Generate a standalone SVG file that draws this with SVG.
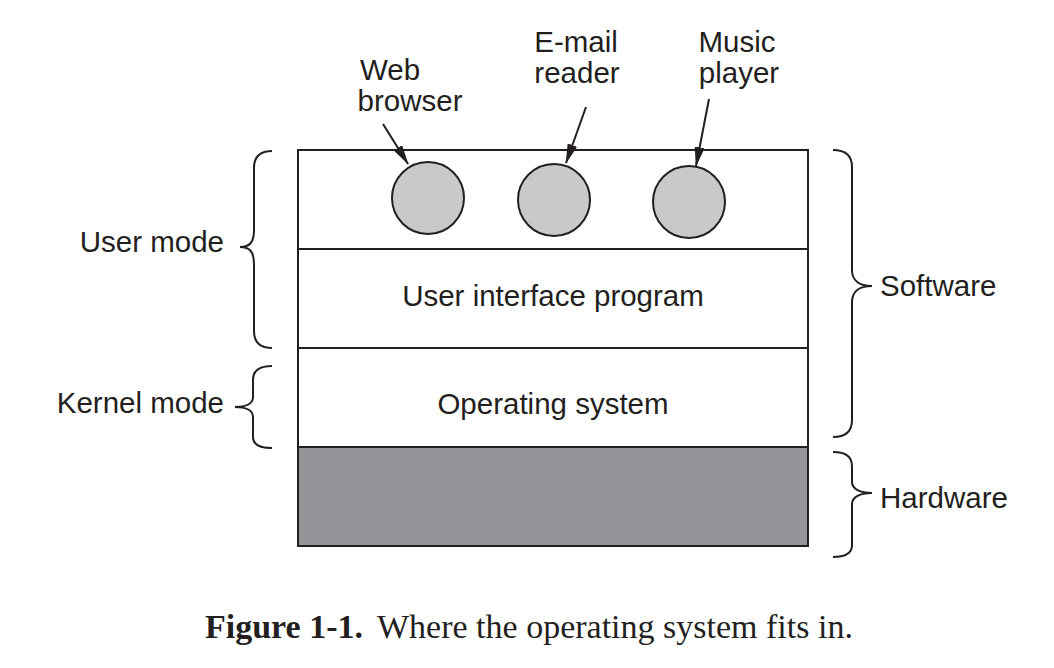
<svg xmlns="http://www.w3.org/2000/svg" width="1054" height="668" viewBox="0 0 1054 668">
<style>
.ln{stroke:#231f20;stroke-width:2;fill:none}
.box{stroke:#231f20;stroke-width:2}
.t{font-family:"Liberation Sans",Arial,Helvetica,sans-serif;font-size:29.5px;fill:#231f20}
.c{fill:#c8c9cb;stroke:#231f20;stroke-width:2}
.cap{font-family:"Liberation Serif","Times New Roman",serif;font-size:34px;fill:#231f20}
</style>
<defs>
<marker id="ah2" viewBox="0 0 20 10" refX="19" refY="5" markerWidth="20" markerHeight="10" markerUnits="userSpaceOnUse" orient="auto">
<path d="M0,0 L20,5 L0,10 Z" fill="#231f20"/>
</marker>
</defs>
<rect width="1054" height="668" fill="#ffffff"/>
<g id="layer-apps"><rect class="box" x="298" y="150" width="510" height="99" fill="#ffffff"/></g>
<g id="layer-ui"><rect class="box" x="298" y="249" width="510" height="99" fill="#ffffff"/><text class="t" x="553" y="306" text-anchor="middle">User interface program</text></g>
<g id="layer-os"><rect class="box" x="298" y="348" width="510" height="99" fill="#ffffff"/><text class="t" x="553" y="414" text-anchor="middle">Operating system</text></g>
<g id="layer-hw"><rect class="box" x="298" y="447" width="510" height="99" fill="#939598"/></g>
<g id="web-browser"><circle class="c" cx="428" cy="198" r="36"/><text class="t" x="390" y="80" text-anchor="middle">Web</text><text class="t" x="410" y="111" text-anchor="middle">browser</text></g>
<g id="email-reader"><circle class="c" cx="554" cy="200" r="36"/><text class="t" x="576" y="52" text-anchor="middle">E-mail</text><text class="t" x="577" y="83" text-anchor="middle">reader</text></g>
<g id="music-player"><circle class="c" cx="689" cy="202" r="36"/><text class="t" x="737" y="52" text-anchor="middle">Music</text><text class="t" x="739" y="83" text-anchor="middle">player</text></g>
<g id="connectors">
<line class="ln" x1="383" y1="124" x2="408" y2="164" marker-end="url(#ah2)"/>
<line class="ln" x1="586" y1="107" x2="566" y2="163" marker-end="url(#ah2)"/>
<line class="ln" x1="709" y1="99" x2="696" y2="166" marker-end="url(#ah2)"/>
</g>
<g id="user-mode">
<path class="ln" d="M272,151 C260,151 254,156 254,168 L254,230 C254,242 250,247 240,247 C250,247 254,252 254,264 L254,331 C254,343 260,348 272,348"/>
<text class="t" x="224" y="252" text-anchor="end">User mode</text>
</g>
<g id="kernel-mode">
<path class="ln" d="M272,366 C260,366 253,370 253,380 L253,397 C253,404 245,407 235,407 C245,407 253,410 253,417 L253,437 C253,445 260,448 272,448"/>
<text class="t" x="224" y="413" text-anchor="end">Kernel mode</text>
</g>
<g id="software">
<path class="ln" d="M833,150 C845,150 852,155 852,167 L852,270 C852,281 860,286 872,286 C860,286 852,291 852,302 L852,420 C852,432 845,437 833,437"/>
<text class="t" x="880" y="296">Software</text>
</g>
<g id="hardware">
<path class="ln" d="M833,452 C845,452 852,456 852,466 L852,482 C852,489 860,493 872,493 C860,493 852,497 852,504 L852,545 C852,553 845,557 833,557"/>
<text class="t" x="880" y="508">Hardware</text>
</g>
<g id="caption">
<text class="cap" x="205" y="638"><tspan font-weight="bold">Figure 1-1.</tspan><tspan dx="14">Where the operating system fits in.</tspan></text>
</g>
</svg>
